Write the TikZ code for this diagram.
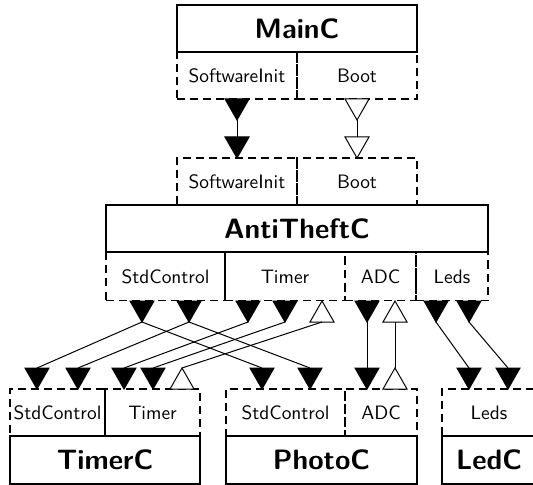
\documentclass[tikz,border=0pt]{standalone}
\usetikzlibrary{positioning}
\tikzset{
  comp/.style={draw, line width=0.9pt, minimum height=23.5pt, inner sep=0pt,
    font=\fontsize{14}{16}\selectfont\sffamily\bfseries},
  iface/.style={draw, dash pattern=on 4pt off 2.5pt, line width=0.8pt,
    minimum height=23.5pt, inner sep=0pt, font=\fontsize{9.7}{11}\selectfont\sffamily},
  wire/.style={line width=0.5pt},
  cmd/.pic={\filldraw[line width=0.5pt] (-12,0) -- (12,0) -- (0,21) -- cycle;
    \coordinate (-in) at (0,0); \coordinate (-out) at (0,21);},
  opencmd/.pic={\draw[line width=0.5pt, fill=white] (-12,0) -- (12,0) -- (0,21) -- cycle;
    \coordinate (-in) at (0,0); \coordinate (-out) at (0,21);},
  evt/.pic={\draw[line width=0.5pt, fill=white] (0,0) -- (12,21) -- (-12,21) -- cycle;
    \coordinate (-in) at (0,0); \coordinate (-out) at (0,21);},
}
\begin{document}
\begin{tikzpicture}[x=0.5pt, y=-0.5pt]
\useasboundingbox (0,0) rectangle (533,485);
\clip (0,0) rectangle (533,485);

% interfaces
\node[iface, minimum width=60pt] (mainc-init) at (237,75.5) {SoftwareInit};
\node[iface, minimum width=60pt] (mainc-boot) at (357,75.5) {Boot};
\node[iface, minimum width=60pt] (att-init) at (237,181.5) {SoftwareInit};
\node[iface, minimum width=60pt] (att-boot) at (357,181.5) {Boot};
\node[iface, minimum width=59.5pt, minimum height=24pt] (att-std) at (165.5,276.5) {StdControl};
\node[iface, minimum width=60pt, minimum height=24pt] (att-timer) at (285,276.5) {Timer};
\node[iface, minimum width=35.5pt, minimum height=24pt] (att-adc) at (380.5,276.5) {ADC};
\node[iface, minimum width=36pt, minimum height=24pt] (att-leds) at (452,276.5) {Leds};
\node[iface, minimum width=47.5pt] (timerc-std) at (57.5,412.5) {StdControl};
\node[iface, minimum width=47.5pt] (timerc-timer) at (152.5,412.5) {Timer};
\node[iface, minimum width=59.5pt] (photoc-std) at (285.5,412.5) {StdControl};
\node[iface, minimum width=36pt] (photoc-adc) at (381,412.5) {ADC};
\node[iface, minimum width=47pt] (ledc-leds) at (489,412.5) {Leds};

% components
\node[comp, minimum width=120pt] (mainc) at (297,28.5) {MainC};
\node[comp, minimum width=191pt] (att) at (297,228.5) {AntiTheftC};
\node[comp, minimum width=95pt, minimum height=24pt] (timerc) at (105,460) {TimerC};
\node[comp, minimum width=95.5pt, minimum height=24pt] (photoc) at (321.5,460) {PhotoC};
\node[comp, minimum width=47pt, minimum height=24pt] (ledc) at (489,460) {LedC};

% MainC -> AntiTheftC
\pic (mi) at (237,99) {cmd};
\pic (mb) at (357,99) {opencmd};
\pic (ai) at (237,137) {cmd};
\pic (ab) at (357,137) {opencmd};
\draw[wire] (mi-out) -- (ai-in);
\draw[wire] (mb-out) -- (ab-in);

% AntiTheftC uses
\pic (s1) at (142,301) {cmd};
\pic (s2) at (189,301) {cmd};
\pic (t1) at (248,301) {cmd};
\pic (t2) at (285,301) {cmd};
\pic (t3) at (322,301) {evt};
\pic (d1) at (367,301) {cmd};
\pic (d2) at (395,301) {evt};
\pic (l1) at (436,301) {cmd};
\pic (l2) at (469,301) {cmd};

% providers
\pic (ts1) at (37,368) {cmd};
\pic (ts2) at (78,368) {cmd};
\pic (tt1) at (124,368) {cmd};
\pic (tt2) at (153,368) {cmd};
\pic (tt3) at (182,368) {evt};
\pic (ps1) at (262,368) {cmd};
\pic (ps2) at (310,368) {cmd};
\pic (pd1) at (367,368) {cmd};
\pic (pd2) at (395,368) {evt};
\pic (ll1) at (469,368) {cmd};
\pic (ll2) at (508,368) {cmd};

% wiring
\draw[wire] (s1-out) -- (ts1-in);
\draw[wire] (s1-out) -- (ps1-in);
\draw[wire] (s2-out) -- (ts2-in);
\draw[wire] (s2-out) -- (ps2-in);
\draw[wire] (t1-out) -- (tt1-in);
\draw[wire] (t2-out) -- (tt2-in);
\draw[wire] (t3-out) -- (tt3-in);
\draw[wire] (d1-out) -- (pd1-in);
\draw[wire] (d2-out) -- (pd2-in);
\draw[wire] (l1-out) -- (ll1-in);
\draw[wire] (l2-out) -- (ll2-in);
\end{tikzpicture}
\end{document}
